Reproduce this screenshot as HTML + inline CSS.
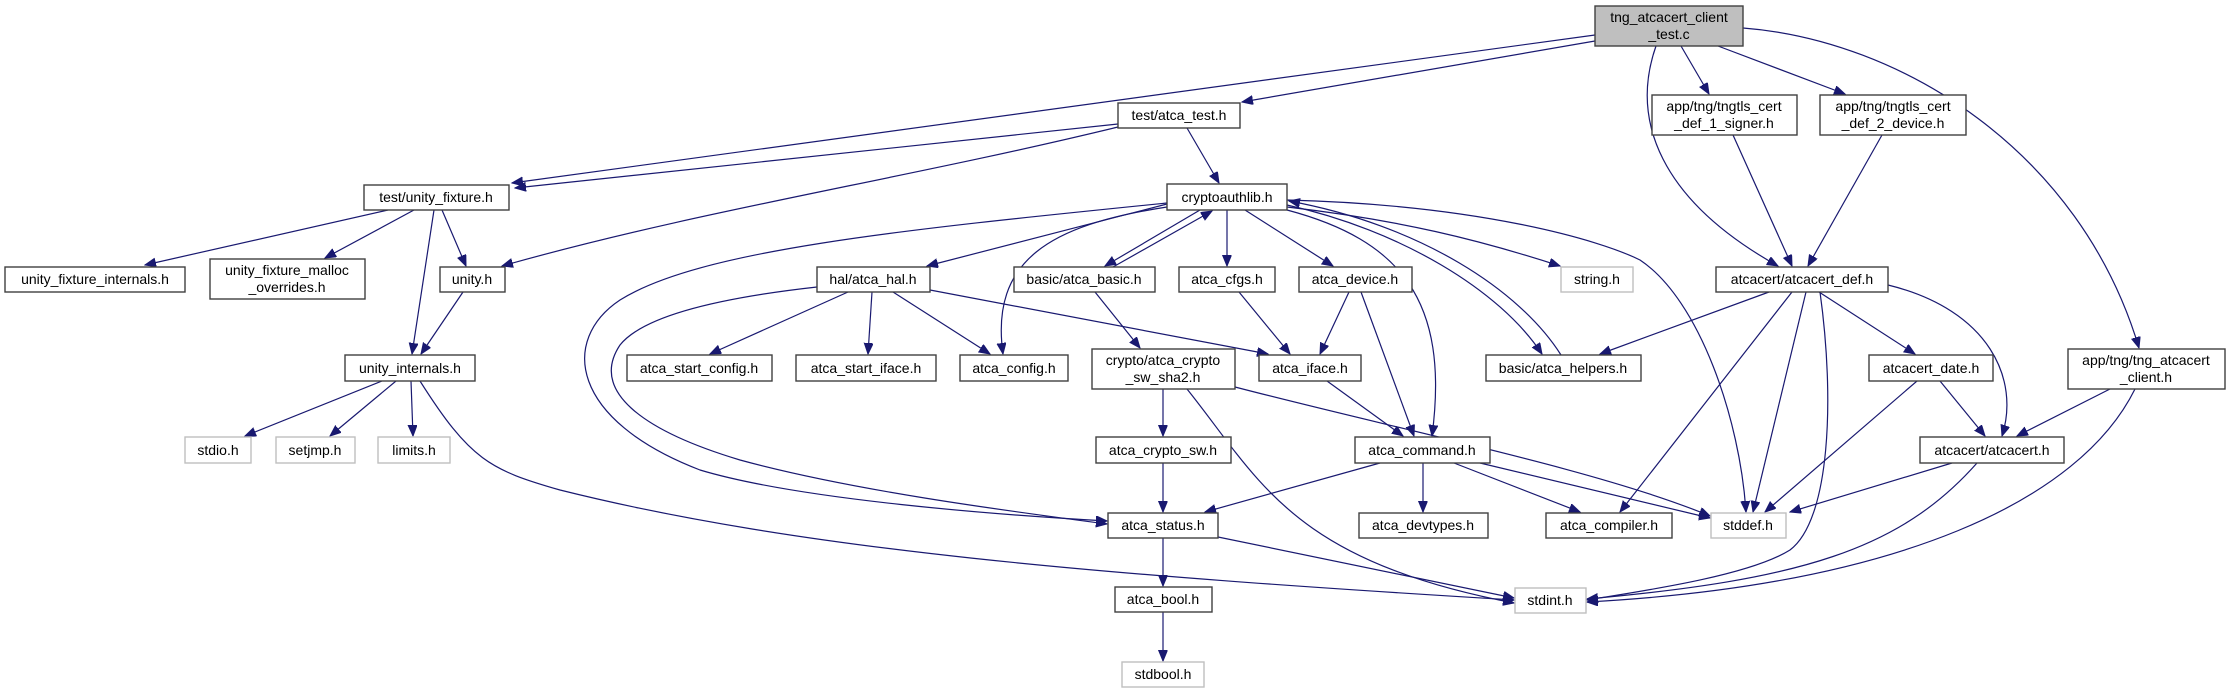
<!DOCTYPE html>
<html><head><meta charset="utf-8"><style>
html,body{margin:0;padding:0;background:#fff;}
svg{display:block;}
text{font-family:"Liberation Sans",sans-serif;font-size:14px;fill:#000;text-anchor:middle;}
.n{fill:#fff;stroke:#404040;stroke-width:1.4;}
.g{fill:#fff;stroke:#bfbfbf;stroke-width:1.4;}
.r{fill:#bfbfbf;stroke:#404040;stroke-width:1.4;}
path.e{fill:none;stroke:#191970;stroke-width:1.2;marker-end:url(#a);}
</style></head><body>
<svg width="2227" height="693" viewBox="0 0 2227 693" xmlns="http://www.w3.org/2000/svg">
<defs><marker id="a" markerUnits="userSpaceOnUse" markerWidth="12" markerHeight="10" refX="11" refY="4.5" orient="auto"><path d="M0,0 L11,4.5 L0,9 z" fill="#191970" stroke="#191970"/></marker></defs>

<!-- edges -->
<path class="e" d="M1595,35 L512,183"/>
<path class="e" d="M1118,124 L515,188"/>
<path class="e" d="M1595,41 L1242,102"/>
<path class="e" d="M1656,46 C1630,120 1660,200 1778,266"/>
<path class="e" d="M1681,46 L1709,94"/>
<path class="e" d="M1718,46 L1845,94"/>
<path class="e" d="M1743,28 C1900,40 2080,150 2139,348"/>
<path class="e" d="M1118,127 C900,180 700,210 502,266"/>
<path class="e" d="M1187,128 L1219,183"/>
<path class="e" d="M388,210 L145,265"/>
<path class="e" d="M414,210 L325,258"/>
<path class="e" d="M434,210 L412,354"/>
<path class="e" d="M442,210 L466,266"/>
<path class="e" d="M463,292 L421,354"/>
<path class="e" d="M382,381 L245,436"/>
<path class="e" d="M396,381 L330,436"/>
<path class="e" d="M411,381 L413,436"/>
<path class="e" d="M420,381 C470,460 490,470 560,490 C800,550 1100,575 1514,600"/>
<path class="e" d="M1167,204 L927,266"/>
<path class="e" d="M1200,210 L1105,266"/>
<path class="e" d="M1113,267 L1212,211"/>
<path class="e" d="M1227,210 L1227,266"/>
<path class="e" d="M1245,210 L1333,266"/>
<path class="e" d="M1167,207 C1050,225 990,260 1003,354"/>
<path class="e" d="M1167,203 C900,230 700,250 620,300 C560,340 570,420 700,470 C800,500 1000,515 1107,521"/>
<path class="e" d="M817,287 C700,300 640,320 620,345 C590,390 640,430 740,460 C850,490 1000,510 1107,524"/>
<path class="e" d="M1287,207 C1400,220 1480,240 1560,266"/>
<path class="e" d="M1287,200 C1480,205 1600,240 1640,260 C1700,300 1740,420 1746,512"/>
<path class="e" d="M1287,205 C1400,230 1500,290 1542,354"/>
<path class="e" d="M1561,355 C1520,290 1420,225 1289,201"/>
<path class="e" d="M1287,210 C1400,240 1450,300 1432,436"/>
<path class="e" d="M1769,292 L1600,354"/>
<path class="e" d="M1792,292 L1620,512"/>
<path class="e" d="M1806,292 L1753,512"/>
<path class="e" d="M1820,292 C1835,400 1830,520 1790,550 C1750,575 1650,590 1587,600"/>
<path class="e" d="M1819,292 L1915,354"/>
<path class="e" d="M1888,285 C1990,310 2020,380 2002,436"/>
<path class="e" d="M1733,135 L1792,266"/>
<path class="e" d="M1882,135 L1808,266"/>
<path class="e" d="M2110,389 L2017,436"/>
<path class="e" d="M2135,389 C2080,500 1900,585 1587,602"/>
<path class="e" d="M1917,381 L1765,512"/>
<path class="e" d="M1940,381 L1985,436"/>
<path class="e" d="M1952,463 L1790,512"/>
<path class="e" d="M1977,463 C1900,550 1800,580 1587,599"/>
<path class="e" d="M848,292 L710,354"/>
<path class="e" d="M872,292 L868,354"/>
<path class="e" d="M893,292 L990,354"/>
<path class="e" d="M930,290 L1268,354"/>
<path class="e" d="M1095,292 L1140,348"/>
<path class="e" d="M1239,292 L1290,354"/>
<path class="e" d="M1349,292 L1320,354"/>
<path class="e" d="M1361,292 L1414,436"/>
<path class="e" d="M1163,389 L1163,436"/>
<path class="e" d="M1187,389 C1260,480 1290,560 1514,603"/>
<path class="e" d="M1235,387 C1400,430 1600,470 1710,516"/>
<path class="e" d="M1327,381 L1403,436"/>
<path class="e" d="M1163,463 L1163,512"/>
<path class="e" d="M1380,463 L1205,512"/>
<path class="e" d="M1423,463 L1423,512"/>
<path class="e" d="M1454,463 L1580,512"/>
<path class="e" d="M1480,463 L1710,518"/>
<path class="e" d="M1163,538 L1163,586"/>
<path class="e" d="M1218,537 L1514,598"/>
<path class="e" d="M1163,612 L1163,661"/>

<!-- nodes -->
<rect class="r" x="1595" y="6" width="148" height="40"/><text x="1669" y="22">tng_atcacert_client</text><text x="1669" y="39">_test.c</text>
<rect class="n" x="1118" y="103" width="122" height="25"/><text x="1179" y="120">test/atca_test.h</text>
<rect class="n" x="364" y="185" width="145" height="25"/><text x="436" y="202">test/unity_fixture.h</text>
<rect class="n" x="5" y="267" width="180" height="25"/><text x="95" y="284">unity_fixture_internals.h</text>
<rect class="n" x="210" y="259" width="155" height="40"/><text x="287" y="275">unity_fixture_malloc</text><text x="287" y="292">_overrides.h</text>
<rect class="n" x="440" y="267" width="65" height="25"/><text x="472" y="284">unity.h</text>
<rect class="n" x="1167" y="184" width="120" height="26"/><text x="1227" y="202">cryptoauthlib.h</text>
<rect class="n" x="817" y="267" width="113" height="25"/><text x="873" y="284">hal/atca_hal.h</text>
<rect class="n" x="1014" y="267" width="141" height="25"/><text x="1084" y="284">basic/atca_basic.h</text>
<rect class="n" x="1179" y="267" width="96" height="25"/><text x="1227" y="284">atca_cfgs.h</text>
<rect class="n" x="1299" y="267" width="113" height="25"/><text x="1355" y="284">atca_device.h</text>
<rect class="g" x="1561" y="267" width="72" height="25"/><text x="1597" y="284">string.h</text>
<rect class="n" x="1716" y="267" width="172" height="25"/><text x="1802" y="284">atcacert/atcacert_def.h</text>
<rect class="n" x="1652" y="95" width="145" height="40"/><text x="1724" y="111">app/tng/tngtls_cert</text><text x="1724" y="128">_def_1_signer.h</text>
<rect class="n" x="1820" y="95" width="146" height="40"/><text x="1893" y="111">app/tng/tngtls_cert</text><text x="1893" y="128">_def_2_device.h</text>
<rect class="n" x="2068" y="349" width="157" height="40"/><text x="2146" y="365">app/tng/tng_atcacert</text><text x="2146" y="382">_client.h</text>
<rect class="n" x="1486" y="355" width="155" height="26"/><text x="1563" y="373">basic/atca_helpers.h</text>
<rect class="n" x="1869" y="355" width="124" height="26"/><text x="1931" y="373">atcacert_date.h</text>
<rect class="n" x="1920" y="437" width="144" height="26"/><text x="1992" y="455">atcacert/atcacert.h</text>
<rect class="n" x="1546" y="513" width="126" height="25"/><text x="1609" y="530">atca_compiler.h</text>
<rect class="g" x="1711" y="513" width="75" height="25"/><text x="1748" y="530">stddef.h</text>
<rect class="g" x="1515" y="588" width="71" height="25"/><text x="1550" y="605">stdint.h</text>
<rect class="n" x="345" y="355" width="130" height="26"/><text x="410" y="373">unity_internals.h</text>
<rect class="g" x="185" y="437" width="66" height="26"/><text x="218" y="455">stdio.h</text>
<rect class="g" x="276" y="437" width="79" height="26"/><text x="315" y="455">setjmp.h</text>
<rect class="g" x="378" y="437" width="72" height="26"/><text x="414" y="455">limits.h</text>
<rect class="n" x="627" y="355" width="145" height="26"/><text x="699" y="373">atca_start_config.h</text>
<rect class="n" x="796" y="355" width="140" height="26"/><text x="866" y="373">atca_start_iface.h</text>
<rect class="n" x="960" y="355" width="108" height="26"/><text x="1014" y="373">atca_config.h</text>
<rect class="n" x="1092" y="349" width="143" height="40"/><text x="1163" y="365">crypto/atca_crypto</text><text x="1163" y="382">_sw_sha2.h</text>
<rect class="n" x="1259" y="355" width="102" height="26"/><text x="1310" y="373">atca_iface.h</text>
<rect class="n" x="1096" y="437" width="135" height="26"/><text x="1163" y="455">atca_crypto_sw.h</text>
<rect class="n" x="1355" y="437" width="135" height="26"/><text x="1422" y="455">atca_command.h</text>
<rect class="n" x="1108" y="513" width="110" height="25"/><text x="1163" y="530">atca_status.h</text>
<rect class="n" x="1359" y="513" width="129" height="25"/><text x="1423" y="530">atca_devtypes.h</text>
<rect class="n" x="1115" y="587" width="97" height="25"/><text x="1163" y="604">atca_bool.h</text>
<rect class="g" x="1122" y="662" width="82" height="25"/><text x="1163" y="679">stdbool.h</text>
</svg>
</body></html>
